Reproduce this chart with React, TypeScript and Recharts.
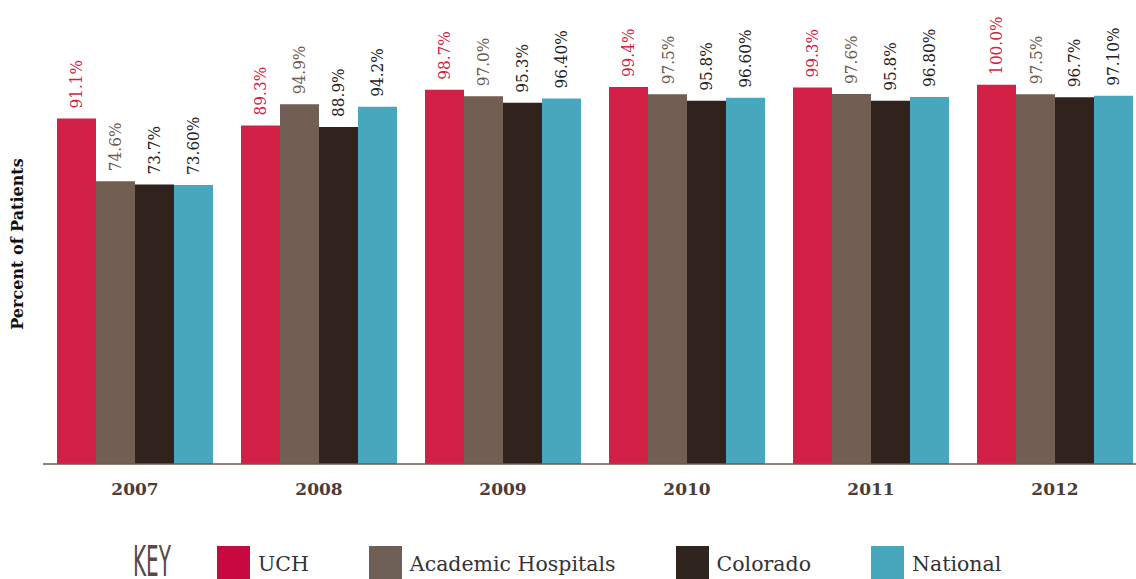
import React from 'react';
import { BarChart, Bar, XAxis, YAxis, LabelList } from 'recharts';

const years = ['2007', '2008', '2009', '2010', '2011', '2012'];
const uch = [91.1, 89.3, 98.7, 99.4, 99.3, 100.0];
const academic = [74.6, 94.9, 97.0, 97.5, 97.6, 97.5];
const colorado = [73.7, 88.9, 95.3, 95.8, 95.8, 96.7];
const national = [73.6, 94.2, 96.4, 96.6, 96.8, 97.1];

// printed labels keep the original's inconsistent decimals
const uchLabels = ['91.1%', '89.3%', '98.7%', '99.4%', '99.3%', '100.0%'];
const academicLabels = ['74.6%', '94.9%', '97.0%', '97.5%', '97.6%', '97.5%'];
const coloradoLabels = ['73.7%', '88.9%', '95.3%', '95.8%', '95.8%', '96.7%'];
const nationalLabels = ['73.60%', '94.2%', '96.40%', '96.60%', '96.80%', '97.10%'];

const series = [
    { key: 'uch', name: 'UCH', fill: '#d11f45', swatch: '#c8093f', labelColor: '#d11f45' },
    { key: 'academic', name: 'Academic Hospitals', fill: '#725e52', swatch: '#6e5f57', labelColor: '#6e5a50' },
    { key: 'colorado', name: 'Colorado', fill: '#30231d', swatch: '#30241f', labelColor: '#2a221e' },
    { key: 'national', name: 'National', fill: '#47a7bd', swatch: '#47a7bd', labelColor: '#222222' },
];

const data = years.map((year, i) => ({
    year,
    uch: uch[i],
    academic: academic[i],
    colorado: colorado[i],
    national: national[i],
    uchLabel: uchLabels[i],
    academicLabel: academicLabels[i],
    coloradoLabel: coloradoLabels[i],
    nationalLabel: nationalLabels[i],
}));

const makeLabel = (color: string) => (props: any) => {
    const vb = props.viewBox || {};
    const x = props.x ?? vb.x;
    const y = props.y ?? vb.y;
    const width = props.width ?? vb.width;
    const cx = x + width / 2;
    const ty = y - 10;
    return (
        <text
            x={cx}
            y={ty}
            transform={`rotate(-90 ${cx} ${ty})`}
            textAnchor="start"
            dominantBaseline="central"
            fill={color}
            fontSize={17}
            fontFamily="'DejaVu Serif Condensed', 'Liberation Serif', serif"
            fontStretch="condensed"
        >
            {props.value}
        </text>
    );
};

const App: React.FC = () => {
    return (
        <div style={{ position: 'absolute', left: 0, top: 0, width: 1136, height: 579, overflow: 'hidden', background: '#fff' }}>
            <BarChart
                width={1150}
                height={579}
                data={data}
                margin={{ top: 9, right: 3, bottom: 85, left: 43 }}
                barCategoryGap={14}
                barGap={0}
            >
                <YAxis hide domain={[0, 120]} />
                <XAxis
                    dataKey="year"
                    axisLine={{ stroke: '#6e5a50', strokeWidth: 1.5 }}
                    tickLine={false}
                    tickMargin={13}
                    height={30}
                    tick={{ fill: '#4a3c36', fontSize: 17, fontWeight: 'bold', fontFamily: "'DejaVu Serif', serif" }}
                />
                {series.map((s) => (
                    <Bar key={s.key} dataKey={s.key} name={s.name} fill={s.fill} isAnimationActive={false}>
                        <LabelList dataKey={`${s.key}Label`} content={makeLabel(s.labelColor)} />
                    </Bar>
                ))}
            </BarChart>

            <div
                style={{
                    position: 'absolute',
                    left: 18,
                    top: 244,
                    transform: 'translate(-50%, -50%) rotate(-90deg)',
                    whiteSpace: 'nowrap',
                    fontFamily: "'DejaVu Serif', serif",
                    fontWeight: 'bold',
                    fontSize: 16,
                    color: '#111',
                    lineHeight: 1,
                }}
            >
                Percent of Patients
            </div>

            <svg width={80} height={36} style={{ position: 'absolute', left: 131, top: 542, overflow: 'visible' }}>
                <text
                    x={2}
                    y={34}
                    fontSize={43}
                    fontFamily="'DejaVu Sans Condensed', 'DejaVu Sans', sans-serif"
                    fill="#5a4a42"
                    textLength={38}
                    lengthAdjust="spacingAndGlyphs"
                >
                    KEY
                </text>
            </svg>

            <div style={{ position: 'absolute', left: 217, top: 546, display: 'flex', alignItems: 'flex-start' }}>
                {series.map((s) => (
                    <div key={s.key} style={{ display: 'flex', alignItems: 'flex-start', marginRight: 60 }}>
                        <div style={{ width: 33, height: 33, background: s.swatch }} />
                        <span
                            style={{
                                marginLeft: 8,
                                marginTop: 8,
                                fontFamily: "'DejaVu Serif', serif",
                                fontSize: 20.5,
                                lineHeight: 1,
                                color: '#333',
                                whiteSpace: 'nowrap',
                            }}
                        >
                            {s.name}
                        </span>
                    </div>
                ))}
            </div>
        </div>
    );
};

export default App;
